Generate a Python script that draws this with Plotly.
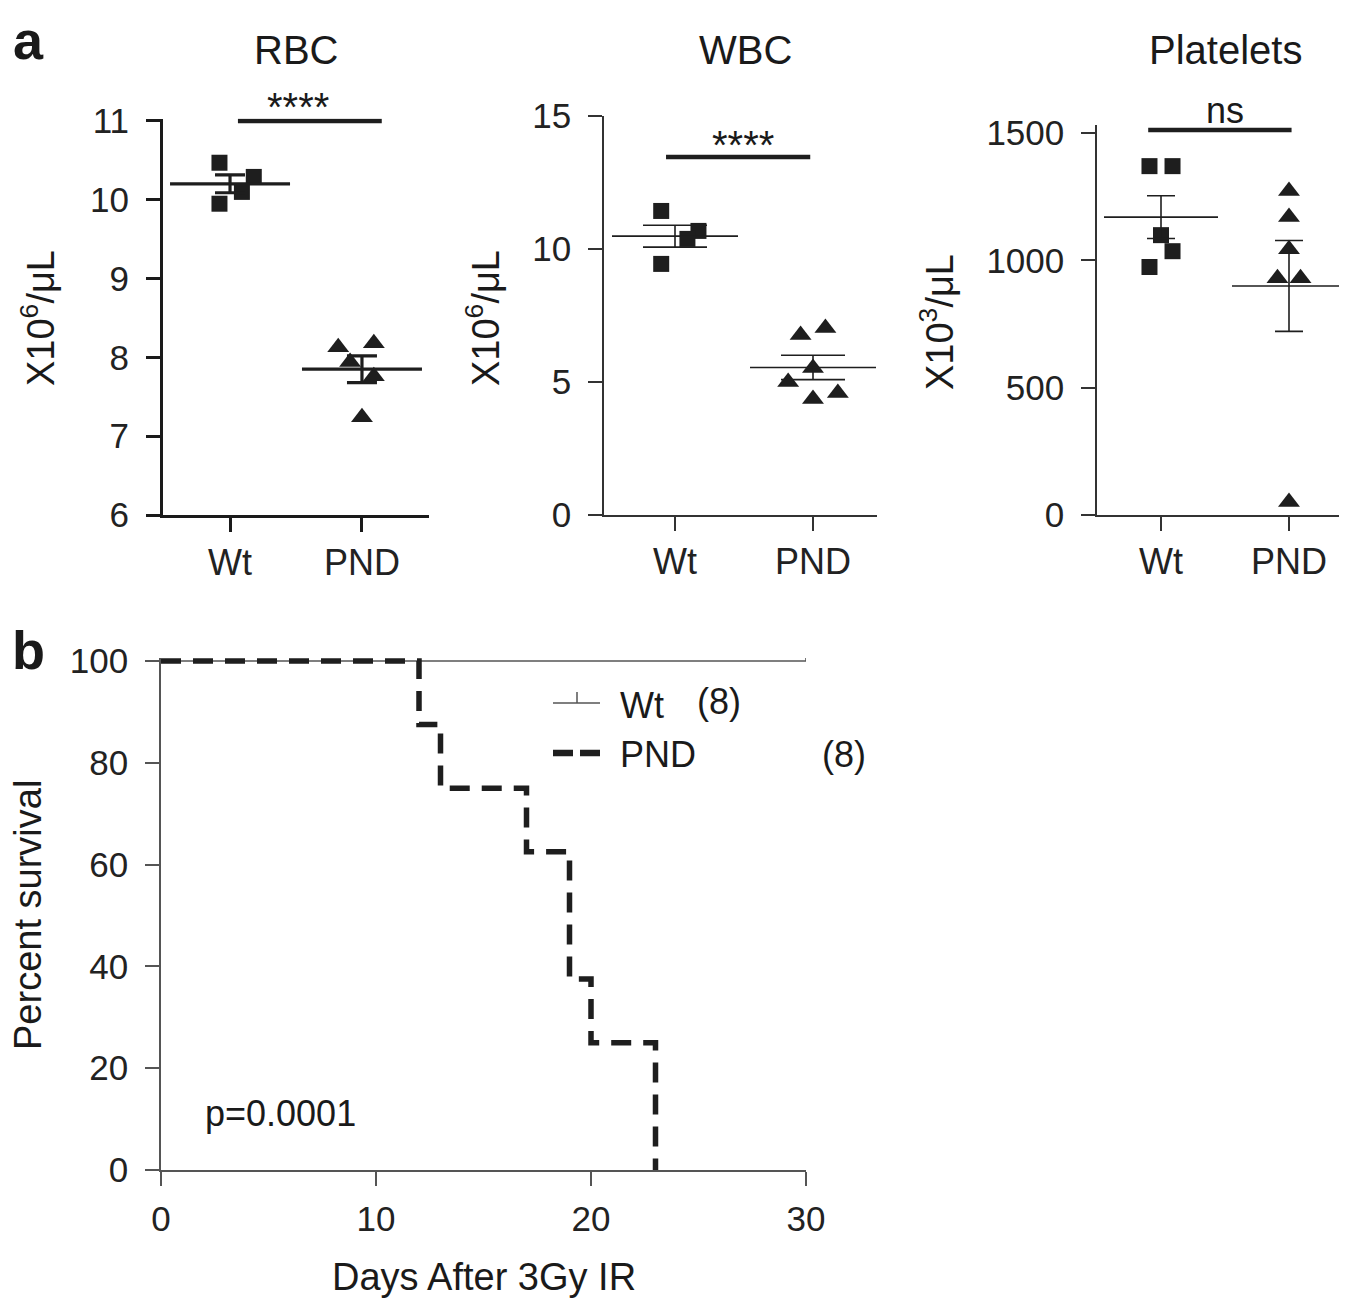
import numpy as np
import plotly.graph_objects as go

# The page body adds an 8px margin; the figure is sized/positioned to compensate.
PAGE_W, PAGE_H, BODY = 1347, 1300, 8
W, H = PAGE_W - BODY, PAGE_H - BODY
FONT = "Liberation Sans, Arial, Helvetica, sans-serif"
INK = "#1e1e1e"

# ---------------- data ----------------
groups = ["Wt", "PND"]

rbc_wt = [10.47, 10.29, 10.10, 9.95]
rbc_pnd = [8.13, 8.18, 7.94, 7.76, 7.24]
wbc_wt = [11.43, 10.68, 10.38, 9.44]
wbc_pnd = [6.77, 7.03, 5.53, 5.00, 4.59, 4.36]
plt_wt = [1370, 1370, 1099, 1036, 974]
plt_pnd = [1272, 1170, 1044, 930, 930, 51]

# horizontal scatter offsets (category units)
rbc_wt_jit = [-0.08, 0.18, 0.09, -0.08]
rbc_pnd_jit = [-0.18, 0.09, -0.09, 0.09, 0.0]
wbc_wt_jit = [-0.10, 0.17, 0.09, -0.10]
wbc_pnd_jit = [-0.09, 0.09, 0.0, -0.18, 0.18, 0.0]
plt_wt_jit = [-0.09, 0.09, 0.0, 0.09, -0.09]
plt_pnd_jit = [0.0, 0.0, 0.0, -0.09, 0.09, 0.0]

surv_days = [0, 12, 13, 17, 19, 20, 23]
pnd_surv = [100, 87.5, 75, 62.5, 37.5, 25, 0]
wt_days = [0, 30]
wt_surv = [100, 100]
wt_censor_day = [30]
wt_n, pnd_n = 8, 8

# ---------------- helpers (page pixels -> paper fractions) ----------------
def fx(p):
    return (p - BODY) / W

def fy(p):
    return 1 - (p - BODY) / H

def mean_sem(v):
    a = np.asarray(v, dtype=float)
    return float(a.mean()), float(a.std(ddof=1) / np.sqrt(len(a)))

fig = go.Figure()

# plotly's line-ew marker spans 1.4 * size; mw below is the wanted full width in px
panels = [
    dict(wt=rbc_wt, pnd=rbc_pnd, jw=rbc_wt_jit, jp=rbc_pnd_jit, ax="", mw=120, cap=15, lw=3.2,
         sig=dict(x0=0.06, x1=1.15, y=11.0, lw=4.5)),
    dict(wt=wbc_wt, pnd=wbc_pnd, jw=wbc_wt_jit, jp=wbc_pnd_jit, ax="2", mw=126, cap=32, lw=1.6,
         sig=dict(x0=-0.065, x1=0.98, y=13.46, lw=4.5)),
    dict(wt=plt_wt, pnd=plt_pnd, jw=plt_wt_jit, jp=plt_pnd_jit, ax="3", mw=114, cap=14, lw=1.6,
         sig=dict(x0=-0.10, x1=1.02, y=1512, lw=4.5)),
]

for p in panels:
    xa, ya = "x" + p["ax"], "y" + p["ax"]
    for gi, (vals, jit, sym, size) in enumerate([(p["wt"], p["jw"], "square", 16),
                                                  (p["pnd"], p["jp"], "triangle-up", 19)]):
        fig.add_trace(go.Scatter(
            x=[gi + j for j in jit], y=vals, mode="markers", xaxis=xa, yaxis=ya,
            marker=dict(symbol=sym, size=size, color=INK, line=dict(width=0)),
            showlegend=False, cliponaxis=False, hoverinfo="y"))
        m, s = mean_sem(vals)
        fig.add_trace(go.Scatter(
            x=[gi], y=[m], mode="markers", xaxis=xa, yaxis=ya,
            marker=dict(symbol="line-ew", size=p["mw"] / 1.4, color=INK,
                        line=dict(width=p["lw"], color=INK)),
            error_y=dict(type="data", array=[s], symmetric=True, width=p["cap"],
                         thickness=p["lw"], color=INK),
            showlegend=False, cliponaxis=False))
    sg = p["sig"]
    fig.add_trace(go.Scatter(
        x=[sg["x0"], sg["x1"]], y=[sg["y"], sg["y"]], mode="lines", xaxis=xa, yaxis=ya,
        line=dict(color=INK, width=sg["lw"]), showlegend=False, hoverinfo="skip"))

# survival curves
fig.add_trace(go.Scatter(
    x=wt_days, y=wt_surv, mode="lines", xaxis="x4", yaxis="y4", line_shape="hv",
    line=dict(color="#555555", width=1.6), showlegend=False))
fig.add_trace(go.Scatter(
    x=wt_censor_day, y=[wt_surv[-1]], mode="markers", xaxis="x4", yaxis="y4",
    marker=dict(size=1, color="#555555", opacity=0),
    error_y=dict(type="data", array=[2.6], arrayminus=[0], width=0, thickness=1.6, color="#555555"),
    showlegend=False, cliponaxis=False))
fig.add_trace(go.Scatter(
    x=surv_days, y=pnd_surv, mode="lines", xaxis="x4", yaxis="y4", line_shape="hv",
    line=dict(color=INK, width=5.5, dash="20px,12px"), showlegend=False))

# ---------------- axes ----------------
def cat_axis(dom, rng, lw, col):
    return dict(domain=[fx(dom[0]), fx(dom[1])], range=rng, tickvals=[0, 1], ticktext=groups,
                showline=True, linewidth=lw, linecolor=col, ticks="outside", ticklen=14,
                tickwidth=lw, tickcolor=col, showgrid=False, zeroline=False,
                tickfont=dict(size=36, color="#222"), ticklabelstandoff=0)

def val_axis(dom, rng, dtick, lw, col, anchor):
    return dict(domain=[fy(dom[0]), fy(dom[1])], range=rng, dtick=dtick, tick0=0,
                showline=True, linewidth=lw, linecolor=col, ticks="outside", ticklen=14,
                tickwidth=lw, tickcolor=col, showgrid=False, zeroline=False,
                tickfont=dict(size=35, color="#222"), ticklabelstandoff=10, anchor=anchor)

layout = dict(
    width=W, height=H, margin=dict(l=0, r=0, t=0, b=0, autoexpand=False),
    paper_bgcolor="white", plot_bgcolor="white",
    font=dict(family=FONT, color="#222"),
    xaxis=dict(**cat_axis([163, 429], [-0.508, 1.508], 3, "#1a1a1a"), anchor="y"),
    yaxis=val_axis([515, 118.6], [6, 11.03], 1, 3, "#1a1a1a", "x"),
    xaxis2=dict(**cat_axis([604, 877], [-0.5145, 1.4638], 1.5, "#333"), anchor="y2"),
    yaxis2=val_axis([515, 116], [0, 15], 5, 1.5, "#333", "x2"),
    xaxis3=dict(**cat_axis([1097, 1345], [-0.5, 1.4375], 1.5, "#333"), anchor="y3"),
    yaxis3=val_axis([515, 125.4], [0, 1530], 500, 1.5, "#333", "x3"),
    xaxis4=dict(domain=[fx(161), fx(806)], range=[0, 30], tickvals=[0, 10, 20, 30],
                showline=True, linewidth=1.5, linecolor="#555", ticks="outside", ticklen=14,
                tickwidth=1.5, tickcolor="#555", showgrid=False, zeroline=False,
                tickfont=dict(size=35, color="#222"), ticklabelstandoff=3, anchor="y4"),
    yaxis4=dict(domain=[fy(1170), fy(657.9)], range=[0, 100.6], tickvals=[0, 20, 40, 60, 80, 100],
                showline=True, linewidth=1.5, linecolor="#555", ticks="outside", ticklen=14,
                tickwidth=1.5, tickcolor="#555", showgrid=False, zeroline=False,
                tickfont=dict(size=35, color="#222"), ticklabelstandoff=10, anchor="x4"),
)

ann = []

def text(x, y, s, size, xa="center", ya="middle", angle=0, bold=False):
    ann.append(dict(x=fx(x), y=fy(y), xref="paper", yref="paper", text=("<b>%s</b>" % s) if bold else s,
                    showarrow=False, xanchor=xa, yanchor=ya, textangle=angle,
                    font=dict(size=size, family=FONT, color="#1a1a1a")))

# panel letters
text(28, 40, "a", 54, bold=True)
text(28, 650, "b", 54, bold=True)
# titles
text(296, 50, "RBC", 40)
text(745, 50, "WBC", 40)
text(1225, 50, "Platelets", 40)
# y titles
text(38, 318, "X10<sup>6</sup>/μL", 38, angle=-90)
text(483, 318, "X10<sup>6</sup>/μL", 38, angle=-90)
text(937, 322, "X10<sup>3</sup>/μL", 38, angle=-90)
# significance labels
text(298, 107, "****", 40)
text(743, 145, "****", 40)
text(1225, 110, "ns", 36)
# survival labels
text(28, 915, "Percent survival", 38, angle=-90)
text(484, 1277, "Days After 3Gy IR", 38)
text(203, 1113, "p=0.0001", 36, xa="left")
# legend text
text(618, 705, "Wt", 36, xa="left")
text(695, 701, "(%d)" % wt_n, 36, xa="left")
text(618, 754, "PND", 36, xa="left")
text(820, 754, "(%d)" % pnd_n, 36, xa="left")

layout["annotations"] = ann
layout["shapes"] = [
    dict(type="line", xref="paper", yref="paper", x0=fx(553), x1=fx(600), y0=fy(703), y1=fy(703),
         line=dict(color="#555", width=1.5)),
    dict(type="line", xref="paper", yref="paper", x0=fx(577), x1=fx(577), y0=fy(703), y1=fy(692),
         line=dict(color="#555", width=1.5)),
    dict(type="line", xref="paper", yref="paper", x0=fx(553), x1=fx(600), y0=fy(753), y1=fy(753),
         line=dict(color=INK, width=6.5, dash="20px,7px")),
]

fig.update_layout(**layout)
fig.write_html("out.html")
